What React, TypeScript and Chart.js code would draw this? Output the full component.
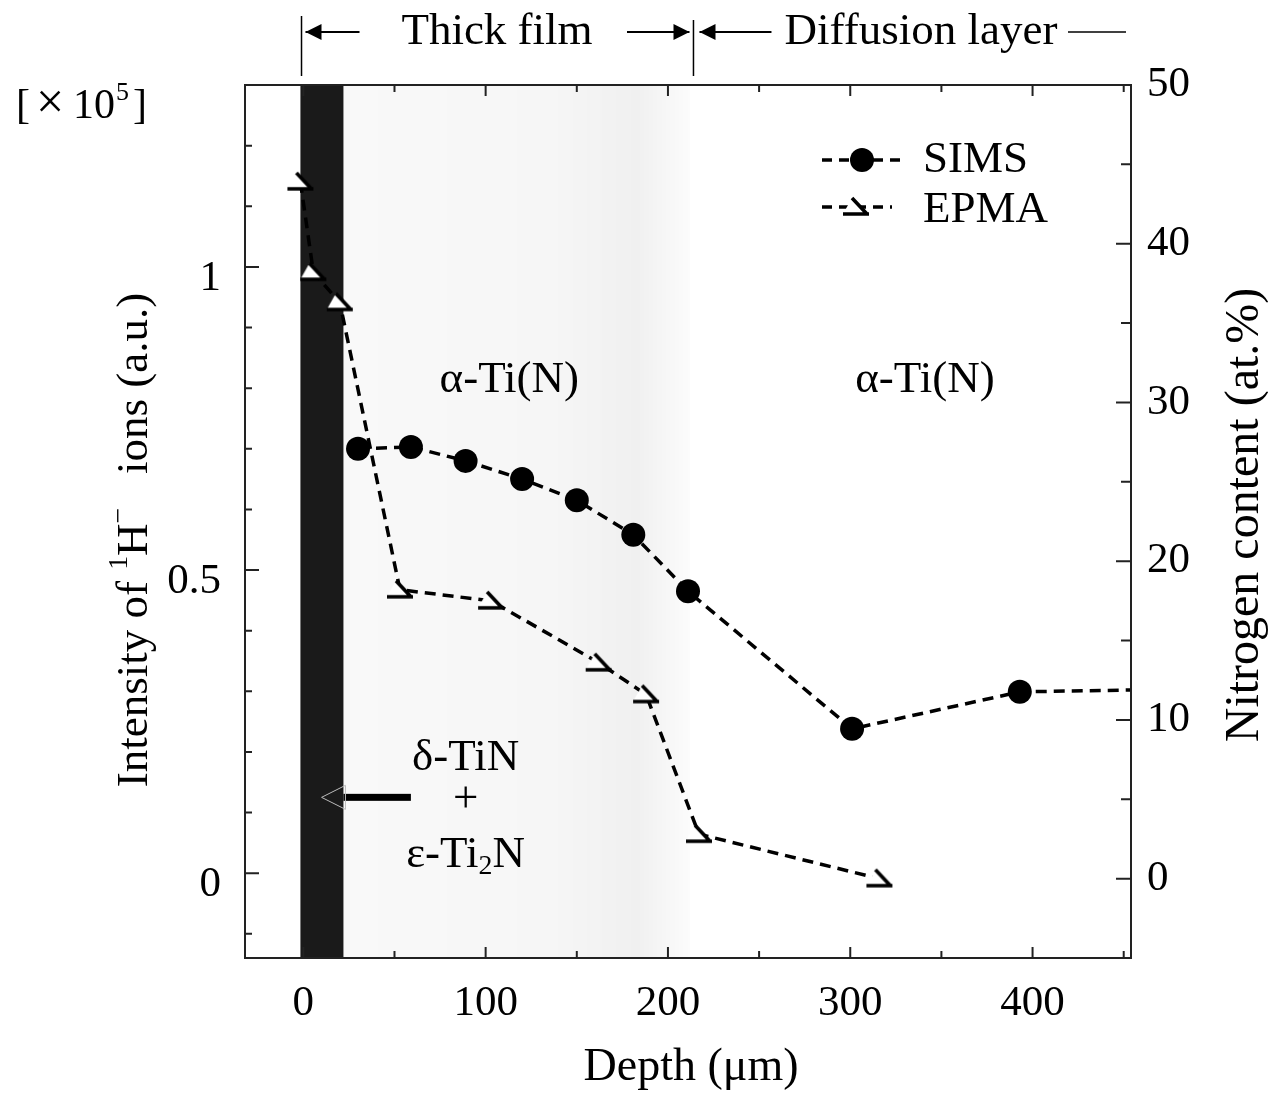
import React, { useEffect, useRef } from "react";
import { Chart, registerables } from "chart.js";
Chart.register(...registerables);

// ---- data ----
const simsDepth = [30, 59, 89, 120, 150, 181, 211, 301, 393, 454];
const simsIntensity = [0.7, 0.703, 0.68, 0.65, 0.615, 0.558, 0.465, 0.238, 0.299, 0.302];
const simsRadius = [12, 12, 12, 12, 12, 12, 12, 12, 12, 0];
const epmaDepth = [-1.6, 5.5, 20, 53, 103, 162, 188, 217, 316];
const epmaNitrogen = [43.9, 38.2, 36.3, 18.2, 17.5, 13.6, 11.6, 2.8, 0];
const xTicks = [0, 100, 200, 300, 400];
const leftTicks = [0, 0.5, 1];
const rightTicks = [0, 10, 20, 30, 40, 50];
const thickFilmEnd = 22; // dark band end (µm)
const filmStart = -1.6;
const diffusionStart = 212;

const FONT = '"Liberation Serif", "Times New Roman", serif';

function makeEpmaMarker(): HTMLCanvasElement {
  const c = document.createElement("canvas");
  c.width = 30;
  c.height = 26;
  const g = c.getContext("2d")!;
  g.fillStyle = "#fff";
  g.beginPath();
  g.moveTo(11, 4);
  g.lineTo(2, 20);
  g.lineTo(27, 20);
  g.closePath();
  g.fill();
  g.strokeStyle = "#000";
  g.lineWidth = 3.6;
  g.lineCap = "butt";
  g.beginPath();
  g.moveTo(11, 4);
  g.lineTo(26, 20);
  g.moveTo(2, 20);
  g.lineTo(28, 20);
  g.stroke();
  return c;
}

function arrowLine(ctx: CanvasRenderingContext2D, x1: number, x2: number, y: number, headAt: "left" | "right" | "none", lw = 2, head = 14) {
  ctx.save();
  ctx.strokeStyle = "#000";
  ctx.fillStyle = "#000";
  ctx.lineWidth = lw;
  ctx.beginPath();
  ctx.moveTo(x1, y);
  ctx.lineTo(x2, y);
  ctx.stroke();
  if (headAt !== "none") {
    const tip = headAt === "left" ? x1 : x2;
    const dir = headAt === "left" ? 1 : -1;
    ctx.beginPath();
    ctx.moveTo(tip, y);
    ctx.lineTo(tip + dir * head, y - head * 0.5);
    ctx.lineTo(tip + dir * head, y + head * 0.5);
    ctx.closePath();
    ctx.fill();
  }
  ctx.restore();
}

function drawRich(ctx: CanvasRenderingContext2D, parts: { t: string; sup?: boolean; sub?: boolean }[], size: number, cx: number, cy: number) {
  const widths = parts.map((p) => {
    ctx.font = `${p.sup || p.sub ? size * 0.62 : size}px ${FONT}`;
    return ctx.measureText(p.t).width;
  });
  const total = widths.reduce((a, b) => a + b, 0);
  let x = cx - total / 2;
  ctx.textAlign = "left";
  ctx.textBaseline = "middle";
  parts.forEach((p, i) => {
    ctx.font = `${p.sup || p.sub ? size * 0.62 : size}px ${FONT}`;
    const dy = p.sup ? -size * 0.33 : p.sub ? size * 0.25 : 0;
    ctx.fillText(p.t, x, cy + dy);
    x += widths[i];
  });
}

export default function App() {
  const ref = useRef<HTMLCanvasElement | null>(null);

  useEffect(() => {
    document.body.style.margin = "0";
    const canvas = ref.current!;
    const marker = makeEpmaMarker();

    const bandPlugin = {
      id: "bands",
      beforeDatasetsDraw(chart: any) {
        const { ctx, chartArea: a, scales } = chart;
        const x = scales.x;
        ctx.save();
        const xs = x.getPixelForValue(thickFilmEnd);
        const xe = x.getPixelForValue(diffusionStart);
        const grad = ctx.createLinearGradient(xs, 0, xe, 0);
        grad.addColorStop(0, "rgba(0,0,0,0.025)");
        grad.addColorStop(0.6, "rgba(0,0,0,0.035)");
        grad.addColorStop(0.85, "rgba(0,0,0,0.06)");
        grad.addColorStop(1, "rgba(0,0,0,0.01)");
        ctx.fillStyle = grad;
        ctx.fillRect(xs, a.top, xe - xs, a.bottom - a.top);
        const x0 = x.getPixelForValue(filmStart);
        ctx.fillStyle = "#1a1a1a";
        ctx.fillRect(x0, a.top, xs - x0, a.bottom - a.top);
        ctx.restore();
      },
      afterDraw(chart: any) {
        const { ctx, chartArea: a, scales } = chart;
        const x = scales.x, y = scales.y, y2 = scales.y2;
        ctx.save();
        // frame
        ctx.strokeStyle = "#222";
        ctx.lineWidth = 2;
        ctx.strokeRect(a.left, a.top, a.right - a.left, a.bottom - a.top);
        // ticks
        ctx.beginPath();
        for (let v = 0; v <= 450; v += 50) {
          const px = x.getPixelForValue(v);
          const len = v % 100 === 0 ? 11 : 7;
          ctx.moveTo(px, a.bottom);
          ctx.lineTo(px, a.bottom - len);
          ctx.moveTo(px, a.top);
          ctx.lineTo(px, a.top + len);
        }
        for (let i = -1; i <= 12; i++) {
          const v = i / 10;
          const py = y.getPixelForValue(v);
          const len = i % 5 === 0 ? 14 : 7;
          ctx.moveTo(a.left, py);
          ctx.lineTo(a.left + len, py);
        }
        for (let v = 0; v <= 45; v += 5) {
          const py = y2.getPixelForValue(v);
          const len = v % 10 === 0 ? 15 : 10;
          ctx.moveTo(a.right, py);
          ctx.lineTo(a.right - len, py);
        }
        ctx.stroke();

        ctx.fillStyle = "#000";
        // region labels
        ctx.font = `45px ${FONT}`;
        ctx.textAlign = "center";
        ctx.textBaseline = "middle";
        ctx.fillText("α-Ti(N)", x.getPixelForValue(113), y.getPixelForValue(0.813));
        ctx.fillText("α-Ti(N)", x.getPixelForValue(341), y.getPixelForValue(0.813));
        ctx.fillText("δ-TiN", x.getPixelForValue(89), y.getPixelForValue(0.19));
        ctx.fillText("+", x.getPixelForValue(89), y.getPixelForValue(0.12));
        drawRich(ctx, [{ t: "ε-Ti" }, { t: "2", sub: true }, { t: "N" }], 45, x.getPixelForValue(89), y.getPixelForValue(0.03));

        // arrow pointing into band
        const ay = y.getPixelForValue(0.125);
        const ax2 = x.getPixelForValue(59);
        const ax1 = x.getPixelForValue(22);
        ctx.fillStyle = "#000";
        ctx.fillRect(ax1, ay - 3.5, ax2 - ax1, 7);
        ctx.beginPath();
        const tip = x.getPixelForValue(10);
        ctx.moveTo(tip, ay);
        ctx.lineTo(ax1 + 2, ay - 12);
        ctx.lineTo(ax1 + 2, ay + 12);
        ctx.closePath();
        ctx.strokeStyle = "#bbb";
        ctx.lineWidth = 1;
        ctx.stroke();

        // legend
        ctx.strokeStyle = "#000";
        ctx.lineWidth = 3.5;
        ctx.setLineDash([10, 7]);
        ctx.beginPath();
        ctx.moveTo(822, 160);
        ctx.lineTo(905, 160);
        ctx.moveTo(822, 207);
        ctx.lineTo(892, 207);
        ctx.stroke();
        ctx.setLineDash([]);
        ctx.fillStyle = "#000";
        ctx.beginPath();
        ctx.arc(862, 160, 12, 0, Math.PI * 2);
        ctx.fill();
        ctx.drawImage(marker, 856 - 15, 207 - 13);
        ctx.font = `45px ${FONT}`;
        ctx.textAlign = "left";
        ctx.textBaseline = "middle";
        ctx.fillText("SIMS", 923, 160);
        ctx.fillText("EPMA", 923, 210);

        // top annotations
        const topY = 32;
        ctx.strokeStyle = "#000";
        ctx.lineWidth = 1.5;
        const vx1 = x.getPixelForValue(-1);
        const vx2 = x.getPixelForValue(214);
        ctx.beginPath();
        ctx.moveTo(vx1, 16);
        ctx.lineTo(vx1, 76);
        ctx.moveTo(vx2, 20);
        ctx.lineTo(vx2, 76);
        ctx.stroke();
        arrowLine(ctx, vx1 + 4, vx1 + 58, topY, "left", 2, 16);
        arrowLine(ctx, 627, vx2 - 4, topY, "right", 2, 16);
        arrowLine(ctx, vx2 + 6, vx2 + 78, topY, "left", 2, 16);
        arrowLine(ctx, 1068, 1126, topY, "none", 1.5);
        ctx.fillStyle = "#000";
        ctx.font = `45px ${FONT}`;
        ctx.textAlign = "center";
        ctx.textBaseline = "middle";
        ctx.fillText("Thick film", 497, topY);
        ctx.fillText("Diffusion layer", 921, topY);

        // [×10^5]
        ctx.textAlign = "left";
        ctx.textBaseline = "alphabetic";
        ctx.font = `42px ${FONT}`;
        ctx.fillText("[", 16, 118);
        ctx.font = `50px ${FONT}`;
        ctx.fillText("×", 36, 118);
        ctx.font = `42px ${FONT}`;
        ctx.fillText("10", 73, 118);
        ctx.font = `26px ${FONT}`;
        ctx.fillText("5", 116, 100);
        ctx.font = `42px ${FONT}`;
        ctx.fillText("]", 133, 118);

        // axis titles
        ctx.fillStyle = "#000";
        ctx.font = `46px ${FONT}`;
        ctx.textAlign = "center";
        ctx.textBaseline = "middle";
        ctx.fillText("Depth (μm)", 691, 1068);

        ctx.save();
        ctx.translate(135, 540);
        ctx.rotate(-Math.PI / 2);
        drawRich(ctx, [{ t: "Intensity of " }, { t: "1", sup: true }, { t: "H" }, { t: "−", sup: true }, { t: "   ions (a.u.)" }], 45, 0, 0);
        ctx.restore();

        ctx.save();
        ctx.translate(1245, 515);
        ctx.rotate(-Math.PI / 2);
        ctx.font = `48px ${FONT}`;
        ctx.textAlign = "center";
        ctx.textBaseline = "middle";
        ctx.fillText("Nitrogen content (at.%)", 0, 0);
        ctx.restore();

        ctx.restore();
      },
    };

    const tickFont = { family: FONT, size: 43 };

    const chart = new Chart(canvas, {
      type: "line",
      data: {
        datasets: [
          {
            label: "SIMS",
            data: simsDepth.map((d, i) => ({ x: d, y: simsIntensity[i] })),
            yAxisID: "y",
            borderColor: "#000",
            borderWidth: 3.5,
            borderDash: [11, 7],
            pointRadius: simsRadius,
            pointBackgroundColor: "#000",
            pointBorderColor: "#000",
            pointBorderWidth: 0,
            tension: 0,
            fill: false,
          },
          {
            label: "EPMA",
            data: epmaDepth.map((d, i) => ({ x: d, y: epmaNitrogen[i] })),
            yAxisID: "y2",
            borderColor: "#000",
            borderWidth: 3.5,
            borderDash: [11, 7],
            pointStyle: marker as any,
            pointRadius: 13,
            tension: 0,
            fill: false,
          },
        ],
      },
      options: {
        responsive: false,
        animation: false,
        events: [],
        layout: { padding: { top: 85, left: 0, right: 0, bottom: 0 } },
        plugins: { legend: { display: false }, tooltip: { enabled: false } },
        scales: {
          x: {
            type: "linear",
            position: "bottom",
            min: -32,
            max: 454,
            grid: { display: false, drawTicks: false },
            border: { display: false },
            afterBuildTicks: (s: any) => {
              s.ticks = xTicks.map((v) => ({ value: v }));
            },
            afterFit: (s: any) => {
              s.height = 138;
            },
            ticks: { color: "#000", font: tickFont, padding: 20, maxRotation: 0, autoSkip: false },
          },
          y: {
            type: "linear",
            position: "left",
            min: -0.14,
            max: 1.3,
            grid: { display: false, drawTicks: false },
            border: { display: false },
            afterBuildTicks: (s: any) => {
              s.ticks = leftTicks.map((v) => ({ value: v }));
            },
            afterFit: (s: any) => {
              s.width = 245;
            },
            ticks: { color: "#000", font: tickFont, padding: 24, labelOffset: 12, autoSkip: false, callback: (v: any) => String(v) },
          },
          y2: {
            type: "linear",
            position: "right",
            min: -5,
            max: 50,
            grid: { display: false, drawTicks: false },
            border: { display: false },
            afterBuildTicks: (s: any) => {
              s.ticks = rightTicks.map((v) => ({ value: v }));
            },
            afterFit: (s: any) => {
              s.width = 137;
            },
            ticks: { color: "#000", font: tickFont, padding: 16, autoSkip: false },
          },
        },
      },
      plugins: [bandPlugin],
    });
    return () => chart.destroy();
  }, []);

  return (
    <div style={{ position: "absolute", left: 0, top: 0, width: 1268, height: 1096, background: "#fff" }}>
      <canvas ref={ref} width={1268} height={1096} style={{ display: "block" }} />
    </div>
  );
}
